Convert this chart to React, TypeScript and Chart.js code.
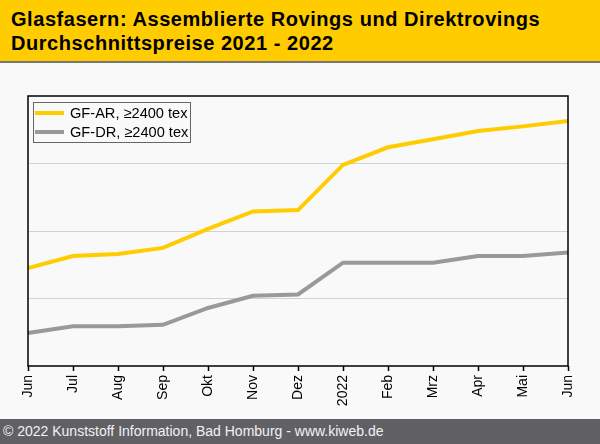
import React, { useEffect, useRef } from "react";
import { Chart, registerables } from "chart.js";

Chart.register(...registerables);

const titleLines = [
  "Glasfasern: Assemblierte Rovings und Direktrovings",
  "Durchschnittspreise 2021 - 2022",
];
const footerText = "© 2022 Kunststoff Information, Bad Homburg - www.kiweb.de";

const months = ["Jun", "Jul", "Aug", "Sep", "Okt", "Nov", "Dez", "2022", "Feb", "Mrz", "Apr", "Mai", "Jun"];
const gfArLabel = "GF-AR, ≥2400 tex";
const gfArValues = [145, 163, 166, 175, 203, 229, 231, 298, 324, 336, 348, 355, 363];
const gfDrLabel = "GF-DR, ≥2400 tex";
const gfDrValues = [49, 59, 59, 61, 86, 104, 106, 153, 153, 153, 163, 163, 168];

const yMin = 0;
const yMax = 400;
const yStep = 100;

const FONT = '"Liberation Sans", Arial, sans-serif';

const framePlugin = {
  id: "frame",
  afterDatasetsDraw(chart: any) {
    const { ctx, chartArea } = chart;
    ctx.save();
    ctx.strokeStyle = "#000";
    ctx.lineWidth = 1.5;
    ctx.strokeRect(chartArea.left, chartArea.top, chartArea.right - chartArea.left, chartArea.bottom - chartArea.top);
    ctx.restore();
  },
};

const legendPlugin = {
  id: "boxLegend",
  afterDraw(chart: any) {
    const { ctx, chartArea } = chart;
    const x0 = chartArea.left + 5;
    const y0 = chartArea.top + 6;
    const w = 157;
    const h = 40;
    ctx.save();
    ctx.fillStyle = "#f9f9f9";
    ctx.fillRect(x0, y0, w, h);
    ctx.strokeStyle = "#666";
    ctx.lineWidth = 1;
    ctx.strokeRect(x0 + 0.5, y0 + 0.5, w, h);
    ctx.font = "14.6px " + FONT;
    ctx.textBaseline = "middle";
    ctx.textAlign = "left";
    chart.data.datasets.forEach((ds: any, i: number) => {
      const y = y0 + 11 + i * 19;
      ctx.strokeStyle = ds.borderColor;
      ctx.lineWidth = 4;
      ctx.beginPath();
      ctx.moveTo(x0 + 2, y);
      ctx.lineTo(x0 + 31, y);
      ctx.stroke();
      ctx.fillStyle = "#000";
      ctx.fillText(ds.label, x0 + 37, y + 1);
    });
    ctx.restore();
  },
};

export default function App() {
  const canvasRef = useRef<HTMLCanvasElement | null>(null);

  useEffect(() => {
    document.body.style.margin = "0";
    const canvas = canvasRef.current;
    if (!canvas) return;
    const chart = new Chart(canvas, {
      type: "line",
      data: {
        labels: months,
        datasets: [
          {
            label: gfArLabel,
            data: gfArValues,
            borderColor: "#FFCC00",
            backgroundColor: "#FFCC00",
            borderWidth: 4,
            pointRadius: 0,
            tension: 0,
            fill: false,
          },
          {
            label: gfDrLabel,
            data: gfDrValues,
            borderColor: "#999999",
            backgroundColor: "#999999",
            borderWidth: 4,
            pointRadius: 0,
            tension: 0,
            fill: false,
          },
        ],
      },
      options: {
        animation: false,
        responsive: true,
        maintainAspectRatio: false,
        layout: { padding: { left: 0, top: 33, right: 32, bottom: 0 } },
        plugins: {
          legend: { display: false },
          tooltip: { enabled: false },
          title: { display: false },
        },
        scales: {
          x: {
            type: "category",
            offset: false,
            border: { display: false },
            grid: {
              drawOnChartArea: false,
              drawTicks: true,
              tickLength: 5,
              tickColor: "#000",
              tickWidth: 1.5,
            },
            ticks: {
              autoSkip: false,
              minRotation: 90,
              maxRotation: 90,
              padding: 4,
              color: "#000",
              font: { family: FONT, size: 14 },
            },
            afterFit(scale: any) {
              scale.height = 53;
            },
          },
          y: {
            min: yMin,
            max: yMax,
            border: { display: false },
            grid: {
              drawTicks: false,
              color: (c: any) =>
                c.tick && (c.tick.value === yMin || c.tick.value === yMax) ? "rgba(0,0,0,0)" : "#d2d2d2",
              lineWidth: 1,
            },
            ticks: { display: false, stepSize: yStep },
            afterFit(scale: any) {
              scale.width = 28;
            },
          },
        },
      },
      plugins: [framePlugin, legendPlugin],
    });
    return () => chart.destroy();
  }, []);

  return (
    <div
      style={{
        position: "absolute",
        left: 0,
        top: 0,
        width: 600,
        height: 444,
        background: "#f9f9f9",
        fontFamily: FONT,
        overflow: "hidden",
      }}
    >
      <div
        style={{
          height: 61,
          background: "#FFCC00",
          borderBottom: "2px solid #777777",
          boxSizing: "content-box",
          paddingLeft: 11,
          fontWeight: "bold",
          fontSize: 20,
          letterSpacing: "0.55px",
          lineHeight: "24px",
          color: "#000",
          whiteSpace: "nowrap",
        }}
      >
        <div style={{ paddingTop: 7 }}>
          {titleLines.map((t, i) => (
            <div key={i}>{t}</div>
          ))}
        </div>
      </div>
      <div style={{ position: "relative", height: 356, width: 600 }}>
        <canvas ref={canvasRef} />
      </div>
      <div
        style={{
          height: 25,
          background: "#616165",
          color: "#f2f2f2",
          fontSize: 14,
          lineHeight: "25px",
          paddingLeft: 3,
          whiteSpace: "nowrap",
        }}
      >
        {footerText}
      </div>
    </div>
  );
}
